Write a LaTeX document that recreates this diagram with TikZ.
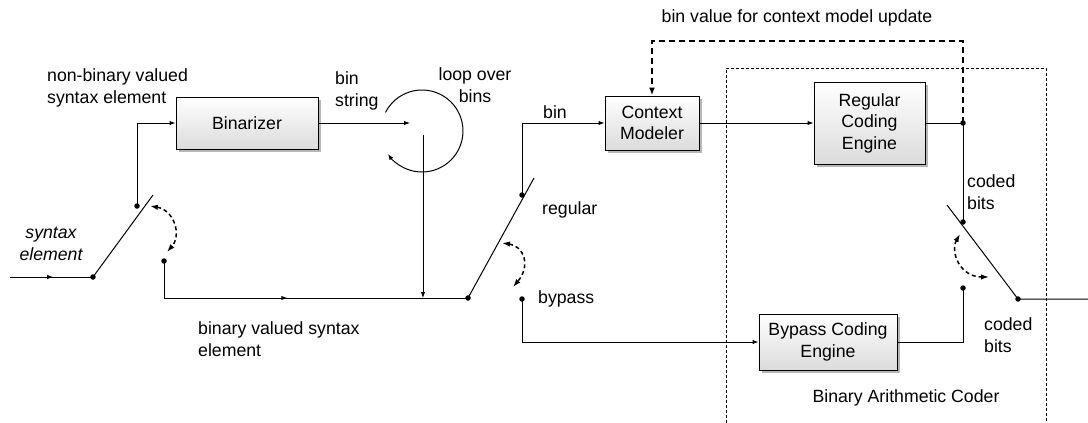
\documentclass[tikz,border=0pt]{standalone}
\usepackage{fontspec}
\setmainfont{Liberation Sans}
\usetikzlibrary{arrows.meta,shadows,decorations.markings}
\begin{document}
\begin{tikzpicture}[x=1pt,y=1pt,
  font=\fontsize{17.7}{21.5}\selectfont,
  wire/.style={line width=1pt},
  tip/.style={-{Latex[length=6pt,width=4.5pt]}},
  midarrow/.style={postaction={decorate},decoration={markings,mark=at position #1 with {\arrow{Latex[length=6pt,width=4.5pt]}}}},
  blk/.style={draw, line width=1pt, top color=white, bottom color=black!14,
    drop shadow={shadow xshift=3pt,shadow yshift=-3pt,fill=black!40,opacity=0.7},
    align=center, inner sep=0pt},
  dotc/.style={circle,fill=black,inner sep=0pt,minimum size=5.5pt},
  swarc/.style={line width=1.5pt,dash pattern=on 4pt off 3pt,{Latex[length=8pt,width=5.5pt]}-{Latex[length=8pt,width=5.5pt]}},
  fb/.style={line width=2pt,dash pattern=on 6pt off 4pt,-{Latex[length=8pt,width=6pt]}},
  frame/.style={line width=1pt,dash pattern=on 3pt off 2pt},
  lbl/.style={align=left,inner sep=0pt,anchor=west},
  clbl/.style={align=center,inner sep=0pt}
]
\useasboundingbox (0,0) rectangle (1088,-423);

% blocks
\node[blk,minimum width=142pt,minimum height=52pt] (bin) at (247,-123) {Binarizer};
\node[blk,minimum width=94pt,minimum height=54pt] (cm) at (652,-123) {Context\\Modeler};
\node[blk,minimum width=111pt,minimum height=82pt] (rce) at (869.5,-123) {Regular\\Coding\\Engine};
\node[blk,minimum width=138pt,minimum height=56pt] (bce) at (828,-342) {Bypass Coding\\Engine};

% coordinates and contact dots
\coordinate (in) at (10,-277);
\node[dotc] (p1) at (93,-277) {};
\coordinate (b1top) at (153,-195);
\node[dotc] (c1a) at (137,-206) {};
\node[dotc] (c1b) at (164,-261) {};
\coordinate (binend) at (410,-123);
\coordinate (vtop) at (423,-135);
\coordinate (vbot) at (423,-298);
\node[dotc] (p2) at (468,-298) {};
\coordinate (b2top) at (534,-178);
\node[dotc] (c2a) at (522,-195) {};
\node[dotc] (c2b) at (522,-299) {};
\node[dotc] (c3top) at (963,-123) {};
\node[dotc] (c3a) at (963,-222) {};
\node[dotc] (c3b) at (963,-288) {};
\coordinate (b3top) at (947,-205);
\node[dotc] (p3) at (1018,-299) {};
\coordinate (out) at (1088,-299);
\coordinate (fbcorner) at (963,-41);

% wires
\draw[wire,midarrow=0.52] (in) -- (p1.center);
\draw[wire] (p1.center) -- (b1top);
\draw[wire,tip] (c1a.center) |- (bin.west);
\draw[wire,tip] (bin.east) -- (binend);
\draw[wire,tip] (vtop) -- (vbot);
\draw[wire,midarrow=0.47] (c1b.center) |- (p2.center);
\draw[wire] (p2.center) -- (b2top);
\draw[wire,tip] (c2a.center) |- (cm.west);
\draw[wire,tip] (c2b.center) |- (bce.west);
\draw[wire,tip] (cm.east) -- (rce.west);
\draw[wire] (rce.east) -- (c3top.center) -- (c3a.center);
\draw[wire] (bce.east) -| (c3b.center);
\draw[wire] (b3top) -- (p3.center) -- (out);

% loop over bins
\draw[wire,tip] (422,-131) ++(153:41) arc[start angle=153,end angle=-146,radius=41];

% feedback
\draw[fb] (c3top.center) -- (fbcorner) -| (cm.north);

% switch arcs
\coordinate (s1a) at (150,-206); \coordinate (s1b) at (167,-252);
\coordinate (s2a) at (502,-243); \coordinate (s2b) at (513,-287);
\coordinate (s3a) at (960,-234); \coordinate (s3b) at (989,-277);
\draw[swarc] (s1a) .. controls (174,-210) and (182,-235) .. (s1b);
\draw[swarc] (s2a) .. controls (524,-246) and (531,-266) .. (s2b);
\draw[swarc] (s3a) .. controls (950,-252) and (960,-277) .. (s3b);

% frame
\coordinate (fr1) at (726,-423); \coordinate (fr2) at (726,-68);
\coordinate (fr3) at (1046,-68); \coordinate (fr4) at (1046,-423);
\draw[frame] (fr1) -- (fr2) -- (fr3) -- (fr4);

% labels
\node[lbl] (l1) at (47,-88) {non-binary valued\\syntax element};
\node[clbl,font=\fontsize{17.7}{21.5}\selectfont\itshape] (l2) at (51,-244) {syntax\\element};
\node[lbl] (l3) at (335,-91) {bin\\string};
\node[clbl] (l4) at (475,-85) {loop over\\bins};
\node[lbl] (l5) at (543,-112) {bin};
\node[lbl] (l6) at (542,-210) {regular};
\node[lbl] (l7) at (538,-299) {bypass};
\node[lbl] (l8) at (198,-339) {binary valued syntax\\element};
\node[lbl] (l9) at (967,-192) {coded\\bits};
\node[lbl] (l10) at (984,-335) {coded\\bits};
\node[clbl] (l11) at (906,-398) {Binary Arithmetic Coder};
\node[clbl] (l12) at (797,-18) {bin value for context model update};
\end{tikzpicture}
\end{document}
